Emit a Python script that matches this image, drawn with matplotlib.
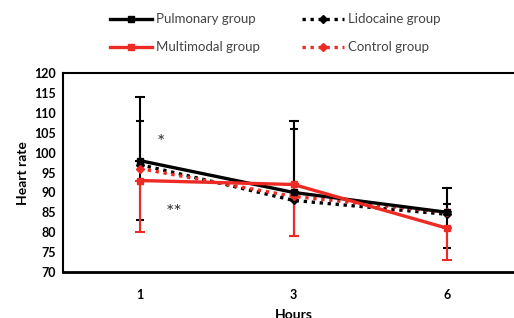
import numpy as np
import matplotlib
matplotlib.use("Agg")
import matplotlib.pyplot as plt

plt.rcParams['font.family'] = ['Lato', 'DejaVu Sans']

hours = ["1", "3", "6"]

pulmonary = [98, 90, 85]
pulmonary_up = [16, 18, 6]

lidocaine = [97, 88, 84.5]
lidocaine_up = [11, 18, 2.5]
lidocaine_down = [14, 9, 8.5]

multimodal = [93, 92, 81]
multimodal_down = [13, 13, 8]

control = [96, 89, 85]

x = np.arange(len(hours))

fig = plt.figure(figsize=(5.14, 3.18), dpi=100)
ax = fig.add_axes([0.1226, 0.1447, 0.897, 0.6253])

# error bars first (black up, red down)
ax.errorbar(x, pulmonary, yerr=[np.zeros(3), pulmonary_up], fmt='none',
            ecolor='black', elinewidth=1.5, capsize=3.5, capthick=1.5, zorder=2)
ax.errorbar(x, lidocaine, yerr=[lidocaine_down, lidocaine_up], fmt='none',
            ecolor='black', elinewidth=1.5, capsize=3, capthick=1.5, zorder=2)
ax.errorbar(x, multimodal, yerr=[multimodal_down, np.zeros(3)], fmt='none',
            ecolor='#ee2a24', elinewidth=1.5, capsize=3.5, capthick=1.5, zorder=3)

ax.plot(x, pulmonary, color='black', lw=2.4, marker='s', ms=5,
        label='Pulmonary group', zorder=5)
ax.plot(x, multimodal, color='#ee2a24', lw=2.4, marker='s', ms=5,
        label='Multimodal group', zorder=6)
ax.plot(x, lidocaine, color='black', lw=2.4, ls=(0, (1, 1.4)), marker='D', ms=4,
        label='Lidocaine group', zorder=4)
ax.plot(x, control, color='#ee2a24', lw=2.4, ls=(0, (1, 1.4)), marker='D', ms=4,
        label='Control group', zorder=4)

ax.text(0.136, 102.5, '*', ha='center', va='center', fontsize=14, color='#333333')
ax.text(0.22, 85.0, '**', ha='center', va='center', fontsize=14, color='#333333')

ax.set_xlim(-0.5, 2.5)
ax.set_ylim(70, 120)
ax.set_yticks(range(70, 121, 5))
ax.set_xticks(x)
ax.set_xticklabels(hours)
ax.tick_params(length=0, labelsize=9, pad=5)
for lab in ax.get_xticklabels() + ax.get_yticklabels():
    lab.set_fontweight('bold')
ax.tick_params(axis='x', pad=12)

for s in ax.spines.values():
    s.set_linewidth(1.5)
ax.spines['bottom'].set_linewidth(2)

ax.set_ylabel('Heart rate', fontsize=10, fontweight='bold', labelpad=4)
ax.set_xlabel('Hours', fontsize=10, fontweight='bold', labelpad=6)

fig.legend(loc='upper left', bbox_to_anchor=(0.19, 0.995), ncol=2, frameon=False,
           fontsize=9.5, handlelength=3.2, handletextpad=0.3, columnspacing=3.2,
           labelspacing=1.2, labelcolor='#444444')

fig.savefig('out.png', dpi=100)
